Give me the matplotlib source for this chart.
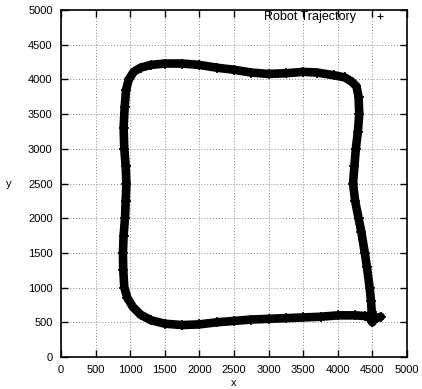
import matplotlib
matplotlib.use("Agg")
import matplotlib.pyplot as plt
from matplotlib.lines import Line2D

plt.rcParams['font.family'] = ['Liberation Sans', 'DejaVu Sans']

# logged robot positions (mm), in driving order
traj_x = [4620, 4560, 4490, 4490, 4480, 4460, 4420, 4390, 4340, 4300, 4250, 4220,
          4240, 4260, 4290, 4310, 4300, 4270, 4200, 4100, 3950, 3700, 3500, 3250,
          3000, 2750, 2500, 2250, 2000, 1750, 1500, 1300, 1150, 1050, 980, 940,
          920, 905, 915, 935, 945, 935, 925, 905, 895, 900, 915, 960, 1040, 1150,
          1300, 1500, 1750, 2000, 2250, 2500, 2750, 3000, 3250, 3500, 3750, 4000,
          4250, 4400, 4470, 4500]
traj_y = [580, 560, 520, 650, 800, 1000, 1300, 1500, 1800, 2000, 2250, 2500,
          2750, 3000, 3250, 3500, 3750, 3900, 3970, 4030, 4060, 4100, 4110, 4090,
          4080, 4100, 4140, 4170, 4210, 4230, 4230, 4210, 4170, 4110, 4000, 3850,
          3600, 3300, 3000, 2750, 2500, 2250, 2000, 1750, 1500, 1250, 1000, 850,
          720, 610, 530, 480, 460, 470, 500, 520, 540, 550, 560, 570, 580, 600,
          600, 590, 560, 500]

ticks = list(range(0, 5001, 500))

fig = plt.figure(figsize=(4.22, 3.89), dpi=100)
ax = fig.add_axes([0.1445, 0.0823, 0.82, 0.8917])

ax.plot(traj_x, traj_y, color='black', lw=6.2, solid_capstyle='round',
        solid_joinstyle='round', zorder=3)
ax.plot(traj_x, traj_y, ls='none', marker='+', ms=7, mew=1.2, color='black', zorder=3)

ax.set_xlim(0, 5000)
ax.set_ylim(0, 5000)
ax.set_xticks(ticks)
ax.set_yticks(ticks)
ax.tick_params(direction='in', length=5, width=1, top=True, right=True,
               labelsize=8, pad=6)
ax.grid(True, color='#888888', linestyle=(0, (1, 2)), linewidth=0.7)
for s in ax.spines.values():
    s.set_linewidth(1.2)

ax.set_xlabel('x', fontsize=8, labelpad=2)
ax.set_ylabel('y', fontsize=8, rotation=0, labelpad=14, va='center')

handle = Line2D([], [], ls='none', marker='+', ms=4, mew=0.8, color='black')
ax.legend([handle], ['Robot Trajectory'], loc='center right',
          bbox_to_anchor=(0.958, 0.98), frameon=False,
          markerfirst=False, fontsize=9, handletextpad=0.9,
          borderaxespad=0, borderpad=0, handlelength=2)

fig.savefig('out.png', dpi=100)
